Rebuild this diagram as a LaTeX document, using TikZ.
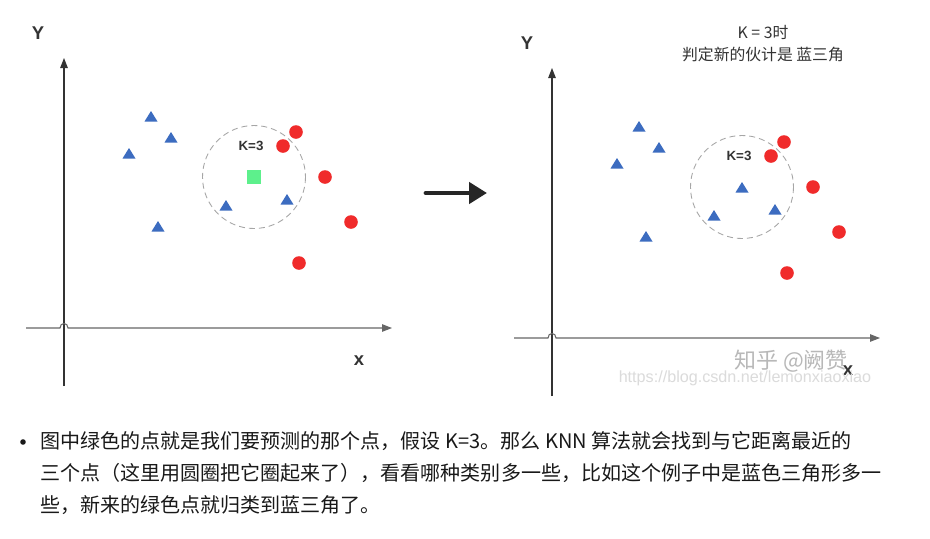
\documentclass[tikz,border=0pt]{standalone}
\usepackage{fontspec}
\setmainfont{Liberation Sans}
\newfontfamily\cjk{Noto Sans CJK SC}
\usetikzlibrary{arrows.meta}
\definecolor{tri}{HTML}{3C6CC0}
\definecolor{dot}{HTML}{F02B2B}
\definecolor{newpt}{HTML}{5DF08C}
\definecolor{ink}{HTML}{333333}

\tikzset{
	yaxis/.style={line width=0.6pt, ink, -{Triangle[length=0.2cm, width=0.15cm]}},
	xaxis/.style={line width=0.6pt, black!60, -{Triangle[length=0.2cm, width=0.15cm]}},
	knn/.style={dashed, dash pattern=on 0.12cm off 0.08cm, black!35, line width=0.5pt},
	axlabel/.style={font=\fontsize{10.5}{12}\selectfont\bfseries, ink},
	klabel/.style={font=\fontsize{7.6}{9}\selectfont\bfseries, ink},
	note/.style={font=\cjk\fontsize{11.4}{14}\selectfont, black!90, inner sep=0, anchor=west}
}

\begin{document}
\begin{tikzpicture}[x=0.02cm, y=-0.02cm]
	\useasboundingbox[fill=white] (0,0) rectangle (930,538);

	% left panel: the new point before it is classified
	\draw[yaxis] (64,386) -- (64,58);
	\draw[xaxis] (26,328) -- (60,328) .. controls (60,322) and (68,322) .. (68,328) -- (392,328);
	\node[axlabel] (ly) at (38,33) {Y};
	\node[axlabel] (lx) at (359,361) {x};

	\draw[knn] (254,177) circle[radius=51.5];
	\node[klabel] (lk) at (251,146) {K=3};
	\foreach \x/\y in {151/117, 171/138, 129/154, 158/227, 226/206, 287/200}{
		\fill[tri] (\x-6.5,\y+4.5) -- (\x+6.5,\y+4.5) -- (\x,\y-6) -- cycle;
	}
	\foreach \x/\y in {296/132, 283/146, 325/177, 351/222, 299/263}{
		\fill[dot] (\x,\y) circle[radius=6.8];
	}
	\fill[newpt] (247,170) rectangle ++(14,14);

	% middle arrow
	\draw[line width=2.8pt, black!85, line cap=round, -{Triangle[length=0.36cm, width=0.42cm]}] (426,193) -- (487,193);

	% right panel: the new point is now a triangle
	\begin{scope}[shift={(488,10)}]
		\draw[yaxis] (64,386) -- (64,58);
		\draw[xaxis] (26,328) -- (60,328) .. controls (60,322) and (68,322) .. (68,328) -- (392,328);
		\node[axlabel] (ry) at (39,33) {Y};
		\node[axlabel] (rx) at (360,361) {x};

		\draw[knn] (254,177) circle[radius=51.5];
		\node[klabel] (rk) at (251,146) {K=3};
		\foreach \x/\y in {151/117, 171/138, 129/154, 158/227, 226/206, 287/200, 254/178}{
			\fill[tri] (\x-6.5,\y+4.5) -- (\x+6.5,\y+4.5) -- (\x,\y-6) -- cycle;
		}
		\foreach \x/\y in {296/132, 283/146, 325/177, 351/222, 299/263}{
			\fill[dot] (\x,\y) circle[radius=6.8];
		}
	\end{scope}
	\node[font=\cjk\fontsize{9}{12.5}\selectfont, ink, align=center] (title) at (763,44) {K = 3时\\判定新的伙计是 蓝三角};

	% watermark
	\node[font=\cjk\fontsize{12.5}{14}\selectfont, black!28] (wm) at (791,361) {知乎 @阙赞};
	\node[font=\fontsize{9.2}{11}\selectfont, black!14] (url) at (745,378) {https://blog.csdn.net/lemonxiaoxiao};

	% note below the pictures
	\fill[black!90] (23,442) circle[radius=2.8];
	\node[note] (l1) at (40,441) {图中绿色的点就是我们要预测的那个点，假设 K=3。那么 KNN 算法就会找到与它距离最近的};
	\node[note] (l2) at (40,473) {三个点（这里用圆圈把它圈起来了），看看哪种类别多一些，比如这个例子中是蓝色三角形多一};
	\node[note] (l3) at (40,505) {些，新来的绿色点就归类到蓝三角了。};
\end{tikzpicture}
\end{document}
